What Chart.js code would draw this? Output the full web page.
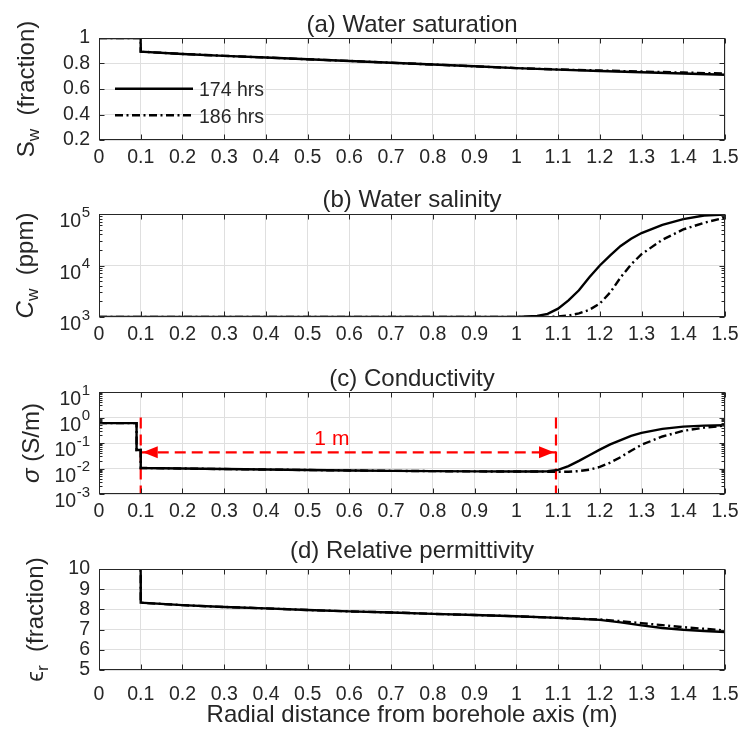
<!DOCTYPE html>
<html>
<head>
<meta charset="utf-8">
<title>Invasion profiles</title>
<script src="https://cdn.jsdelivr.net/npm/chart.js@4.4.1/dist/chart.umd.min.js"></script>
<style>
  html, body { margin: 0; padding: 0; background: #fff; }
  #wrap { position: relative; width: 742px; height: 740px; overflow: hidden; }
  canvas { position: absolute; left: 0; }
</style>
</head>
<body>
<div id="wrap">
  <canvas id="pa" width="742" height="175" style="top:0px"></canvas>
  <canvas id="pb" width="742" height="175" style="top:175px"></canvas>
  <canvas id="pc" width="742" height="180" style="top:350px"></canvas>
  <canvas id="pd" width="742" height="210" style="top:530px"></canvas>
</div>
<script>
// ==========================================
// Data
// ==========================================

const xTickVals = [0, 0.1, 0.2, 0.3, 0.4, 0.5, 0.6, 0.7, 0.8, 0.9, 1, 1.1, 1.2, 1.3, 1.4, 1.5];
const seriesLabels = ['174 hrs', '186 hrs'];

// (a) water saturation, fraction
const satX   = [0, 0.1, 0.1, 0.2, 0.3, 0.4, 0.5, 0.6, 0.7, 0.8, 0.9, 1.0, 1.1, 1.2, 1.3, 1.4, 1.5];
const sat174 = [1, 1, 0.893, 0.875, 0.860, 0.847, 0.833, 0.820, 0.806, 0.792, 0.778, 0.764, 0.752, 0.741, 0.731, 0.721, 0.712];
const sat186 = [1, 1, 0.893, 0.875, 0.860, 0.847, 0.833, 0.820, 0.806, 0.792, 0.778, 0.764, 0.753, 0.745, 0.737, 0.729, 0.721];
const satTicks = [0.2, 0.4, 0.6, 0.8, 1];

// (b) water salinity, ppm
const salX   = [0, 0.9, 1.0, 1.05, 1.075, 1.1, 1.125, 1.15, 1.175, 1.2, 1.225, 1.25, 1.275, 1.3, 1.35, 1.4, 1.45, 1.5];
const sal174 = [1000, 1000, 1000, 1050, 1150, 1450, 2100, 3300, 5900, 10000, 15800, 24000, 33100, 42700, 61700, 79400, 93300, 97700];
const sal186 = [1000, 1000, 1000, 1000, 1000, 1020, 1070, 1175, 1380, 1820, 3000, 5900, 10500, 16600, 31600, 50100, 67600, 85100];
const salTicks = [1e3, 1e4, 1e5];

// (c) conductivity, S/m
const condX   = [0, 0.09, 0.09, 0.1, 0.1, 0.2, 0.3, 0.4, 0.5, 0.6, 0.7, 0.8, 0.9, 1.0, 1.05, 1.075, 1.1, 1.125, 1.15, 1.175, 1.2, 1.225, 1.25, 1.275, 1.3, 1.35, 1.4, 1.45, 1.5];
const cond174 = [0.6, 0.6, 0.053, 0.053, 0.0105, 0.0100, 0.0095, 0.0091, 0.0087, 0.0084, 0.0081, 0.0079, 0.0077, 0.0076, 0.0076, 0.0078, 0.0088, 0.0125, 0.020, 0.033, 0.055, 0.088, 0.13, 0.19, 0.25, 0.36, 0.44, 0.48, 0.50];
const cond186 = [0.6, 0.6, 0.053, 0.053, 0.0105, 0.0100, 0.0095, 0.0091, 0.0087, 0.0084, 0.0081, 0.0079, 0.0077, 0.0076, 0.0076, 0.0075, 0.0074, 0.0075, 0.0079, 0.0090, 0.0115, 0.017, 0.028, 0.050, 0.085, 0.18, 0.30, 0.40, 0.48];
const condTicks = [1e-3, 1e-2, 1e-1, 1, 10];

// red "1 m" annotation in (c)
const spanX = [0.1, 1.095];
const spanY = [1, 0.001];
const arrowY = 0.043;
const spanText = '1 m';
const spanTextAt = [0.558, 0.08];

// (d) relative permittivity
const permX   = [0, 0.1, 0.1, 0.2, 0.3, 0.4, 0.5, 0.6, 0.7, 0.8, 0.9, 1.0, 1.1, 1.2, 1.25, 1.3, 1.35, 1.4, 1.45, 1.5];
const perm174 = [80, 80, 8.33, 8.21, 8.12, 8.05, 7.97, 7.90, 7.85, 7.78, 7.72, 7.66, 7.58, 7.48, 7.36, 7.21, 7.08, 6.99, 6.93, 6.88];
const perm186 = [80, 80, 8.33, 8.21, 8.12, 8.05, 7.97, 7.90, 7.85, 7.78, 7.72, 7.66, 7.58, 7.50, 7.42, 7.32, 7.22, 7.12, 7.04, 6.96];
const permTicks = [5, 6, 7, 8, 9, 10];

// ==========================================
// Style
// ==========================================

const FONT = "'Liberation Sans', Arial, Helvetica, sans-serif";
const INK = '#262626';
const GRID = '#dfdfdf';
const RED = '#ff0000';
const TICK_SIZE = 19.5;
const LABEL_SIZE = 24;
const DASHDOT = [8, 3.5, 2, 3.5];

// per-panel decorations, keyed by canvas id
const PANELS = {
    pa: { title: '(a) Water saturation', titleY: 31.5,
          ylabel: [{ t: 'S' }, { t: 'w', sub: true }, { t: '  (fraction)' }], ylabelX: 34, legend: true },
    pb: { title: '(b) Water salinity', titleY: 31.5,
          ylabel: [{ t: 'C', it: true }, { t: 'w', sub: true }, { t: '  (ppm)' }], ylabelX: 32.5, log: true },
    pc: { title: '(c) Conductivity', titleY: 35.5,
          ylabel: [{ t: 'σ', it: true }, { t: ' (S/m)' }], ylabelX: 38.5, log: true, span: true },
    pd: { title: '(d) Relative permittivity', titleY: 28,
          ylabel: [{ t: 'ϵ' }, { t: 'r', sub: true }, { t: '  (fraction)' }], ylabelX: 43,
          xlabel: 'Radial distance from borehole axis (m)', xlabelY: 192 }
};

// ==========================================
// Helpers
// ==========================================

function pts(xs, ys) {
    return xs.map(function (x, i) { return { x: x, y: ys[i] }; });
}

function lineSet(label, xs, ys, dash) {
    return {
        label: label,
        data: pts(xs, ys),
        borderColor: '#000',
        borderWidth: 2.4,
        borderDash: dash || [],
        pointRadius: 0,
        tension: 0,
        fill: false
    };
}

function redSet(xs, ys) {
    return {
        label: '',
        data: pts(xs, ys),
        borderColor: RED,
        borderWidth: 2.2,
        borderDash: [11, 6],
        pointRadius: 0,
        tension: 0,
        fill: false
    };
}

function partFont(p) {
    const size = p.sub ? LABEL_SIZE * 0.72 : LABEL_SIZE;
    return (p.it ? 'italic ' : '') + size + 'px ' + FONT;
}

// rotated y-axis title with subscripts, centred on cy, baseline at x
function drawYLabel(ctx, parts, x, cy) {
    let total = 0;
    parts.forEach(function (p) { ctx.font = partFont(p); total += ctx.measureText(p.t).width; });
    ctx.save();
    ctx.translate(x, cy);
    ctx.rotate(-Math.PI / 2);
    ctx.textAlign = 'left';
    ctx.textBaseline = 'alphabetic';
    ctx.fillStyle = INK;
    let cx = -total / 2;
    parts.forEach(function (p) {
        ctx.font = partFont(p);
        ctx.fillText(p.t, cx, p.sub ? 5 : 0);
        cx += ctx.measureText(p.t).width;
    });
    ctx.restore();
}

function drawArrowHead(ctx, tipX, y, dir) {
    ctx.beginPath();
    ctx.moveTo(tipX, y);
    ctx.lineTo(tipX + dir * 15, y - 6);
    ctx.lineTo(tipX + dir * 15, y + 6);
    ctx.closePath();
    ctx.fill();
}

// ==========================================
// Axes decoration plugin (box, inward ticks, labels)
// ==========================================

const panelPlugin = {
    id: 'panelDecor',
    afterDatasetsDraw(chart) {
        const info = PANELS[chart.canvas.id];
        const ctx = chart.ctx;
        const a = chart.chartArea;
        const xs = chart.scales.x;
        const ys = chart.scales.y;
        const L = Math.round(a.left) + 0.5, R = Math.round(a.right) - 0.5;
        const T = Math.round(a.top) + 0.5, B = Math.round(a.bottom) - 0.5;

        ctx.save();
        ctx.strokeStyle = INK;
        ctx.lineWidth = 1;
        ctx.setLineDash([]);
        ctx.beginPath();
        xs.ticks.forEach(function (t) {
            const px = Math.round(xs.getPixelForValue(t.value)) + 0.5;
            ctx.moveTo(px, B); ctx.lineTo(px, B - 5);
            ctx.moveTo(px, T); ctx.lineTo(px, T + 5);
        });
        ys.ticks.forEach(function (t) {
            const py = Math.round(ys.getPixelForValue(t.value)) + 0.5;
            ctx.moveTo(L, py); ctx.lineTo(L + 5, py);
            ctx.moveTo(R, py); ctx.lineTo(R - 5, py);
        });
        if (info.log) {
            const e0 = Math.round(Math.log10(ys.min));
            const e1 = Math.round(Math.log10(ys.max));
            for (let e = e0; e < e1; e++) {
                for (let m = 2; m <= 9; m++) {
                    const py = Math.round(ys.getPixelForValue(m * Math.pow(10, e))) + 0.5;
                    ctx.moveTo(L, py); ctx.lineTo(L + 3, py);
                    ctx.moveTo(R, py); ctx.lineTo(R - 3, py);
                }
            }
        }
        ctx.stroke();
        ctx.strokeRect(L, T, R - L, B - T);

        ctx.fillStyle = INK;
        // log tick labels: 10 with raised exponent
        if (info.log) {
            const rightX = a.left - 9;
            ys.ticks.forEach(function (t) {
                const py = ys.getPixelForValue(t.value);
                const e = String(Math.round(Math.log10(t.value)));
                ctx.textAlign = 'right';
                ctx.textBaseline = 'alphabetic';
                ctx.font = '15px ' + FONT;
                const w = ctx.measureText(e).width;
                ctx.fillText(e, rightX, py + 2.5);
                ctx.font = TICK_SIZE + 'px ' + FONT;
                ctx.fillText('10', rightX - w - 0.5, py + 13);
            });
        }

        // panel title
        ctx.font = LABEL_SIZE + 'px ' + FONT;
        ctx.textAlign = 'center';
        ctx.textBaseline = 'alphabetic';
        ctx.fillText(info.title, (a.left + a.right) / 2, info.titleY);

        // y-axis title
        drawYLabel(ctx, info.ylabel, info.ylabelX, (a.top + a.bottom) / 2);

        // x-axis title
        if (info.xlabel) {
            ctx.font = LABEL_SIZE + 'px ' + FONT;
            ctx.textAlign = 'center';
            ctx.fillText(info.xlabel, (a.left + a.right) / 2, info.xlabelY);
        }

        // legend inside (a)
        if (info.legend) {
            const rows = [88.7, 115.3];
            chart.data.datasets.forEach(function (ds, i) {
                ctx.strokeStyle = ds.borderColor;
                ctx.lineWidth = ds.borderWidth;
                ctx.setLineDash(ds.borderDash);
                ctx.beginPath();
                ctx.moveTo(115, rows[i]);
                ctx.lineTo(193, rows[i]);
                ctx.stroke();
                ctx.setLineDash([]);
                ctx.font = TICK_SIZE + 'px ' + FONT;
                ctx.textAlign = 'left';
                ctx.fillStyle = INK;
                ctx.fillText(ds.label, 199, rows[i] + 7.5);
            });
        }

        // arrowheads and label of the red span in (c)
        if (info.span) {
            const yA = ys.getPixelForValue(arrowY);
            ctx.fillStyle = RED;
            drawArrowHead(ctx, xs.getPixelForValue(spanX[0]) + 2, yA, 1);
            drawArrowHead(ctx, xs.getPixelForValue(spanX[1]) - 2, yA, -1);
            ctx.font = '21px ' + FONT;
            ctx.textAlign = 'center';
            ctx.fillText(spanText, xs.getPixelForValue(spanTextAt[0]), ys.getPixelForValue(spanTextAt[1]));
        }
        ctx.restore();
    }
};

// ==========================================
// Chart setup
// ==========================================

function makeTicks(vals) {
    return function (scale) {
        scale.ticks = vals.map(function (v) { return { value: v }; });
    };
}

function makePanel(id, cfg) {
    const ctx = document.getElementById(id).getContext('2d');
    const yAxis = {
        type: cfg.yType,
        min: cfg.yMin,
        max: cfg.yMax,
        afterBuildTicks: makeTicks(cfg.yTicks),
        afterFit: function (s) { s.width = 99; s.paddingTop = 0; s.paddingBottom = 0; },
        ticks: {
            display: cfg.yType === 'linear',
            autoSkip: false,
            color: INK,
            padding: 9,
            font: { family: FONT, size: TICK_SIZE },
            callback: function (v) { return String(+v.toFixed(1)); }
        },
        grid: { color: GRID, drawTicks: false },
        border: { display: false }
    };
    return new Chart(ctx, {
        type: 'line',
        data: { datasets: cfg.datasets },
        options: {
            responsive: false,
            animation: false,
            events: [],
            layout: { padding: { left: 0, right: 17, top: cfg.top, bottom: 0 } },
            scales: {
                x: {
                    type: 'linear',
                    min: 0,
                    max: 1.5,
                    afterBuildTicks: makeTicks(xTickVals),
                    afterFit: function (s) { s.height = cfg.xHeight; s.paddingLeft = 0; s.paddingRight = 0; },
                    ticks: {
                        color: INK,
                        padding: cfg.xPad,
                        maxRotation: 0,
                        autoSkip: false,
                        font: { family: FONT, size: TICK_SIZE },
                        callback: function (v) { return String(+v.toFixed(1)); }
                    },
                    grid: { color: GRID, drawTicks: false },
                    border: { display: false }
                },
                y: yAxis
            },
            plugins: {
                legend: { display: false },
                tooltip: { enabled: false }
            }
        },
        plugins: [panelPlugin]
    });
}

makePanel('pa', {
    yType: 'linear', yMin: 0.2, yMax: 1, yTicks: satTicks,
    top: 38, xHeight: 35, xPad: 5.5,
    datasets: [
        lineSet(seriesLabels[0], satX, sat174),
        lineSet(seriesLabels[1], satX, sat186, DASHDOT)
    ]
});

makePanel('pb', {
    yType: 'logarithmic', yMin: 1e3, yMax: 1e5, yTicks: salTicks,
    top: 39, xHeight: 33, xPad: 6,
    datasets: [
        lineSet(seriesLabels[0], salX, sal174),
        lineSet(seriesLabels[1], salX, sal186, DASHDOT)
    ]
});

makePanel('pc', {
    yType: 'logarithmic', yMin: 1e-3, yMax: 10, yTicks: condTicks,
    top: 42, xHeight: 36, xPad: 5.5,
    datasets: [
        lineSet(seriesLabels[0], condX, cond174),
        lineSet(seriesLabels[1], condX, cond186, DASHDOT),
        redSet([spanX[0], spanX[0]], spanY),
        redSet([spanX[1], spanX[1]], spanY),
        redSet(spanX, [arrowY, arrowY])
    ]
});

makePanel('pd', {
    yType: 'linear', yMin: 5, yMax: 10, yTicks: permTicks,
    top: 39, xHeight: 70, xPad: 13,
    datasets: [
        lineSet(seriesLabels[0], permX, perm174),
        lineSet(seriesLabels[1], permX, perm186, DASHDOT)
    ]
});
</script>
</body>
</html>
